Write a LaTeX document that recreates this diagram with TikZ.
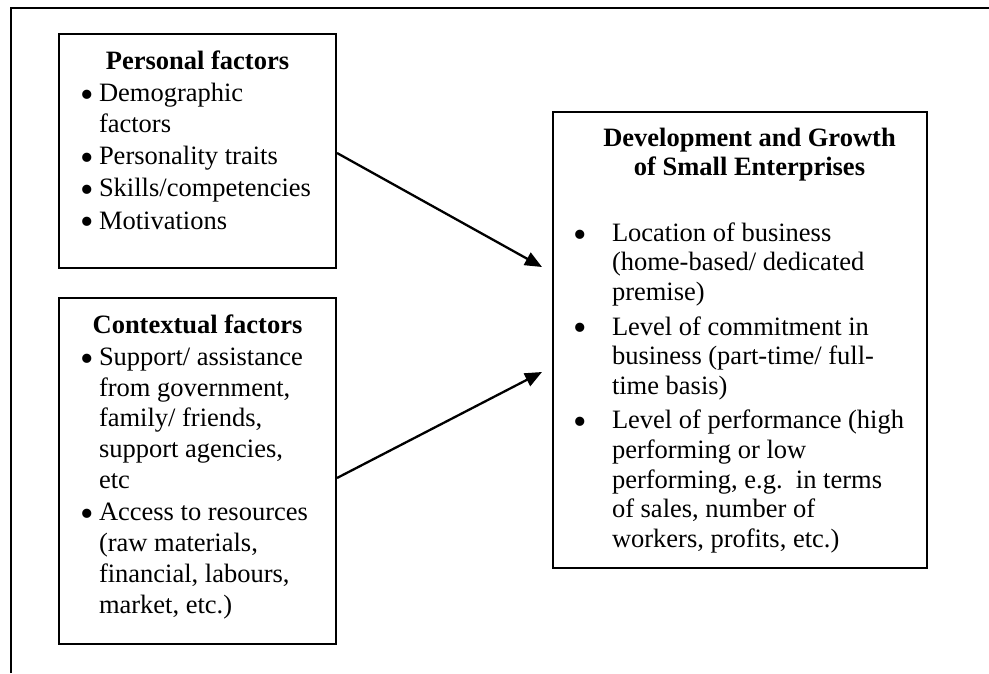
\documentclass[tikz,border=0pt]{standalone}
\usepackage{fontspec}
\setmainfont{Liberation Serif}
\usetikzlibrary{arrows.meta}

% a larger bullet dot, kept at mid x-height
\newcommand\bigdot{\smash{\raisebox{-0.22em}{\scalebox{1.45}{\textbullet}}}}
% one bulleted paragraph: #1 = bullet offset, #2 = text indent, #3 = text
\newcommand\bulletpar[3]{%
  \par\noindent\hangindent=#2\relax\hangafter=1\relax
  \hbox to #2{\hspace{#1}\bigdot\hfil}#3\par}

\tikzset{
  panel/.style={draw, line width=2pt, inner sep=0pt, anchor=north west},
  link/.style={line width=2.3pt, -{Triangle[length=17pt,width=14pt]}},
  frameline/.style={line width=2.4pt},
}

\begin{document}
\begin{tikzpicture}[x=1pt, y=1pt]
\useasboundingbox (0,0) rectangle (989,-673);

% outer frame (top and left edges only)
\draw[frameline] (11,-673) -- (11,-8) -- (989,-8);

% personal factors
\node[panel] (pf) at (58,-33) {%
  \begin{minipage}[c][234pt][t]{277pt}
  \fontsize{26.5pt}{30.8pt}\selectfont\setlength\parskip{1.5pt}%
  \rightskip=0pt plus 1fil\relax
  {\centering\bfseries\rule{0pt}{35pt}Personal factors\par}
  \bulletpar{21pt}{40pt}{Demographic\newline factors}
  \bulletpar{21pt}{40pt}{Personality traits}
  \bulletpar{21pt}{40pt}{Skills/competencies}
  \bulletpar{21pt}{40pt}{Motivations}
  \end{minipage}};

% contextual factors
\node[panel] (cf) at (58,-297) {%
  \begin{minipage}[c][346pt][t]{277pt}
  \fontsize{26.5pt}{30.8pt}\selectfont\setlength\parskip{1.5pt}%
  \rightskip=0pt plus 1fil\relax
  {\centering\bfseries\rule{0pt}{35pt}Contextual factors\par}
  \bulletpar{21pt}{40pt}{Support/ assistance\newline from government,\newline family/ friends,\newline support agencies,\newline etc}
  \bulletpar{21pt}{40pt}{Access to resources\newline (raw materials,\newline financial, labours,\newline market, etc.)}
  \end{minipage}};

% development and growth
\node[panel] (dg) at (552,-111) {%
  \begin{minipage}[c][456pt][t]{374pt}
  \fontsize{26.5pt}{29.6pt}\selectfont\setlength\parskip{5pt}%
  {\centering\leftskip=19pt plus 1fil\bfseries\rule{0pt}{34pt}Development and Growth\\of Small Enterprises\par}
  \vspace{31pt}
  \rightskip=0pt plus 1fil\relax
  \bulletpar{20pt}{59pt}{Location of business\newline (home-based/ dedicated\newline premise)}
  \bulletpar{20pt}{59pt}{Level of commitment in\newline business (part-time/ full-\newline time basis)}
  \bulletpar{20pt}{59pt}{Level of performance (high\newline performing or low\newline performing, e.g.\ \ in terms\newline of sales, number of\newline workers, profits, etc.)}
  \end{minipage}};

% arrow ends in front of the right panel
\coordinate (tip1) at (542,-267);
\coordinate (tip2) at (542,-372);

\draw[link] ([yshift=-2pt]pf.east) -- (tip1);
\draw[link] ([yshift=-7pt]cf.east) -- (tip2);
\end{tikzpicture}
\end{document}
